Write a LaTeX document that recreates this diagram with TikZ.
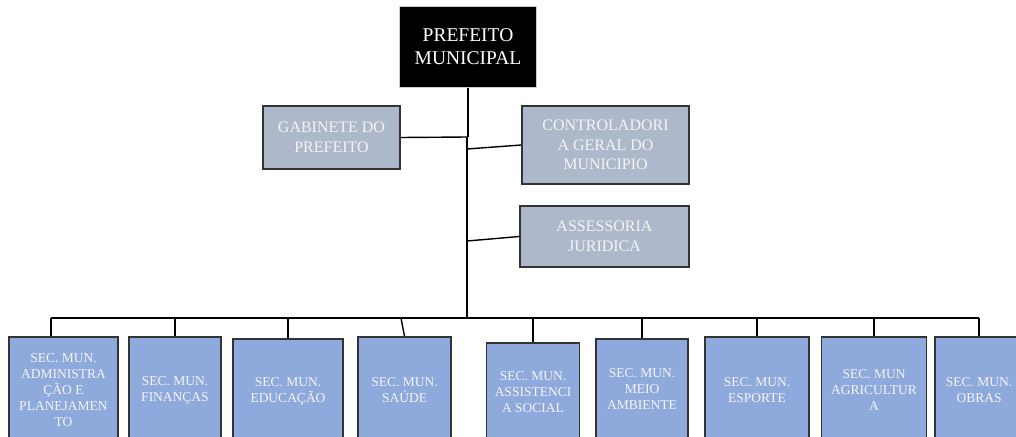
\documentclass[tikz,border=0pt]{standalone}
\usepackage{fontspec}
\setmainfont{Liberation Serif}
\definecolor{midfill}{HTML}{ADB9CA}
\definecolor{botfill}{HTML}{8EA9DB}
\definecolor{edgecol}{HTML}{333333}
\definecolor{txtcol}{HTML}{F4F4F4}
\begin{document}
\begin{tikzpicture}[x=1pt,y=-1pt,
  topbox/.style={draw=gray!40, line width=1pt, fill=black, text=white, align=center, inner sep=0pt,
    font=\fontsize{19.5}{23}\selectfont},
  midbox/.style={draw=edgecol, line width=1.5pt, fill=midfill, text=txtcol, align=center, inner sep=0pt,
    font=\fontsize{16}{19.5}\selectfont},
  botbox/.style={draw=edgecol, line width=1.5pt, fill=botfill, text=txtcol, align=center, inner sep=0pt,
    font=\fontsize{13.5}{16}\selectfont},
  conn/.style={draw=black, line width=1.4pt}]
\useasboundingbox (0,0) rectangle (1016,436);
\clip (0,0) rectangle (1016,436);

% top
\node[topbox, minimum width=137pt, minimum height=80pt] (pm) at (468,47) {PREFEITO\\MUNICIPAL};

% middle
\node[midbox, minimum width=137pt, minimum height=63pt] (gab) at (331.5,137.5) {GABINETE DO\\PREFEITO};
\node[midbox, minimum width=167pt, minimum height=78pt] (ctrl) at (605.5,145) {CONTROLADORI\\A GERAL DO\\MUNICIPIO};
\node[midbox, minimum width=169pt, minimum height=61pt] (ases) at (604.5,236.5) {ASSESSORIA\\JURIDICA};

% bottom
\node[botbox, minimum width=109pt, minimum height=106pt] (b1) at (63.5,390) {SEC. MUN.\\ADMINISTRA\\ÇÃO E\\PLANEJAMEN\\TO};
\node[botbox, minimum width=92pt, minimum height=106pt] (b2) at (175,390) {SEC. MUN.\\FINANÇAS};
\node[botbox, minimum width=110pt, minimum height=104pt] (b3) at (288,391) {SEC. MUN.\\EDUCAÇÃO};
\node[botbox, minimum width=93pt, minimum height=106pt] (b4) at (404.5,390) {SEC. MUN.\\SAÚDE};
\node[botbox, minimum width=93pt, minimum height=98pt] (b5) at (533,392) {SEC. MUN.\\ASSISTENCI\\A SOCIAL};
\node[botbox, minimum width=92pt, minimum height=100pt] (b6) at (642,389) {SEC. MUN.\\MEIO\\AMBIENTE};
\node[botbox, minimum width=104pt, minimum height=106pt] (b7) at (757,390) {SEC. MUN.\\ESPORTE};
\node[botbox, minimum width=105pt, minimum height=106pt] (b8) at (874,390) {SEC. MUN\\AGRICULTUR\\A};
\node[botbox, minimum width=88pt, minimum height=106pt] (b9) at (979,390) {SEC. MUN.\\OBRAS};

% junctions
\coordinate (j1) at (468,137);
\coordinate (j2) at (467,137);
\coordinate (jc) at (467,149);
\coordinate (ja) at (467,241);
\coordinate (jb) at (467,318);
\coordinate (busL) at (51,318);
\coordinate (busR) at (979,318);
\coordinate (d4) at (401,318);

\draw[conn] (pm.south) -- (j1);
\draw[conn] (gab.east) -- (j1);
\draw[conn] (j2) -- (jb);
\draw[conn] (jc) -- (ctrl.west);
\draw[conn] (ja) -- (ases.west);
\draw[conn] (busL) -- (busR);
\draw[conn] (busL) -- (busL |- b1.north);
\draw[conn] (b2.north |- jb) -- (b2.north);
\draw[conn] (b3.north |- jb) -- (b3.north);
\draw[conn] (d4) -- (b4.north);
\draw[conn] (b5.north |- jb) -- (b5.north);
\draw[conn] (b6.north |- jb) -- (b6.north);
\draw[conn] (b7.north |- jb) -- (b7.north);
\draw[conn] (b8.north |- jb) -- (b8.north);
\draw[conn] (busR) -- (b9.north);
\end{tikzpicture}
\end{document}
